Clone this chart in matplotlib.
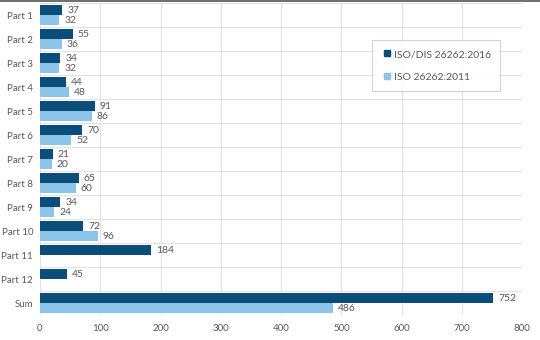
import numpy as np
import matplotlib
matplotlib.use("Agg")
import matplotlib.pyplot as plt
from matplotlib.lines import Line2D

plt.rcParams["font.family"] = ["Lato", "DejaVu Sans"]

categories = ["Part 1", "Part 2", "Part 3", "Part 4", "Part 5", "Part 6", "Part 7",
              "Part 8", "Part 9", "Part 10", "Part 11", "Part 12", "Sum"]
iso_2016 = [37, 55, 34, 44, 91, 70, 21, 65, 34, 72, 184, 45, 752]
iso_2011 = [32, 36, 32, 48, 86, 52, 20, 60, 24, 96, None, None, 486]
series_names = ["ISO/DIS 26262:2016", "ISO 26262:2011"]

dark = "#0b4d7a"
light = "#8cc4ea"
text_col = "#595959"
grid_col = "#e3e3e3"

fig = plt.figure(figsize=(5.4, 3.4), dpi=100)
ax = fig.add_axes([0.074, 0.073, 0.893, 0.918])

y = np.arange(len(categories))
h = 0.42
for i in range(len(categories)):
    ax.barh(y[i] - h / 2, iso_2016[i], height=h, color=dark, zorder=3)
    ax.text(iso_2016[i] + 8, y[i] - h / 2, str(iso_2016[i]), va="center",
            ha="left", fontsize=7.5, color=text_col)
    if iso_2011[i] is not None:
        ax.barh(y[i] + h / 2, iso_2011[i], height=h, color=light, zorder=3)
        ax.text(iso_2011[i] + 8, y[i] + h / 2, str(iso_2011[i]), va="center",
                ha="left", fontsize=7.5, color=text_col)

ax.set_xlim(0, 800)
ax.set_ylim(len(categories) - 0.5, -0.5)
ax.set_xticks(range(0, 801, 100))
ax.set_yticks(y)
ax.set_yticklabels(categories)
ax.tick_params(axis="both", length=0, labelsize=7, colors=text_col)
ax.tick_params(axis="y", pad=5)
ax.tick_params(axis="x", pad=6)

# vertical grid at ticks, horizontal lines between categories
ax.xaxis.grid(True, color=grid_col, linewidth=0.8, zorder=0)
for b in np.arange(-0.5, len(categories), 1.0):
    ax.axhline(b, color=grid_col, linewidth=0.8, zorder=0)
for s in ax.spines.values():
    s.set_visible(False)

handles = [Line2D([], [], marker="s", linestyle="none", markersize=5, color=dark),
           Line2D([], [], marker="s", linestyle="none", markersize=5, color=light)]
leg = ax.legend(handles, series_names, loc="upper left",
                bbox_to_anchor=(0.678, 0.897), frameon=True, fontsize=7.5,
                labelcolor=text_col, handletextpad=0.2, borderpad=0.9,
                labelspacing=1.3, fancybox=False, handlelength=1.0)
leg.get_frame().set_edgecolor("#c8c8c8")
leg.get_frame().set_linewidth(0.8)

# thin dark frame line along the top edge
fig.add_artist(Line2D([0, 1], [0.997, 0.997], color="#555555", linewidth=1.2,
                      transform=fig.transFigure))

fig.savefig("out.png", dpi=100)
